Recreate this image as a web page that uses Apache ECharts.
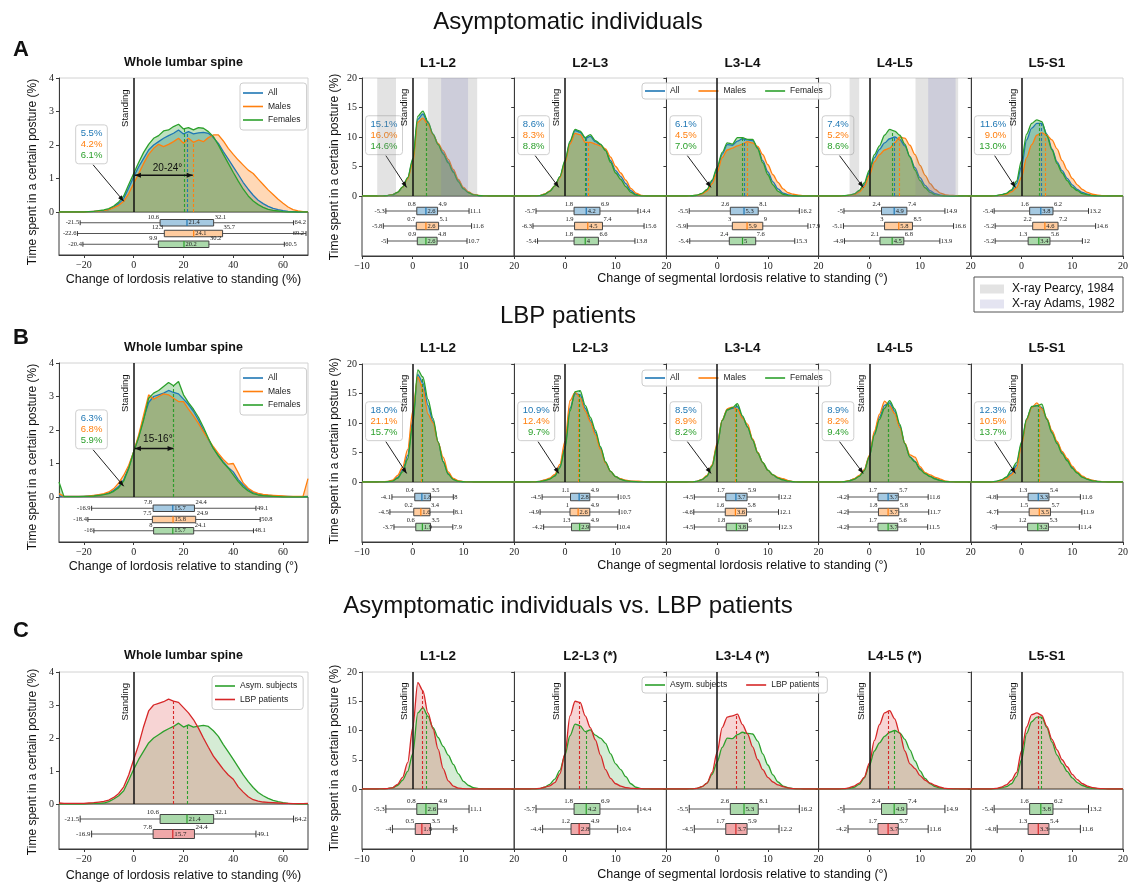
<!DOCTYPE html>
<html><head><meta charset="utf-8">
<script src="https://cdn.jsdelivr.net/npm/echarts@6/dist/echarts.min.js"></script>
<style>html,body{margin:0;padding:0;background:#fff}#main{width:1129px;height:882px}</style>
</head><body><div id="main"></div><script>
// ---------------- DATA ----------------
const WHOLE_X = []; for (let x = -30; x <= 70; x += 2) WHOLE_X.push(x);
const SEG_X = []; for (let x = -10; x <= 20; x += 1) SEG_X.push(x);
const WHOLE_TICKS = [-20, 0, 20, 40, 60];
const SEG_TICKS = [-10, 0, 10, 20];
const SEG_TICK_LABELS_FIRST = [-10, 0, 10, 20];
const SEG_TICK_LABELS_OTHER = [0, 10, 20];
const SEGMENTS = ['L1-L2', 'L2-L3', 'L3-L4', 'L4-L5', 'L5-S1'];
const SEGMENTS_C = ['L1-L2', 'L2-L3 (*)', 'L3-L4 (*)', 'L4-L5 (*)', 'L5-S1'];
const GROUPS = ['All', 'Males', 'Females'];
const GROUPS_C = ['Asym. subjects', 'LBP patients'];

// whole lumbar spine densities (x = -30..70 step 2)
const A_WHOLE_ALL = [0,0,0,0,0,0,0.01,0.02,0.02,0.03,0.07,0.15,0.25,0.4,0.72,1.05,1.35,1.6,1.85,2.0,2.1,2.2,2.28,2.35,2.45,2.33,2.4,2.33,2.36,2.38,2.35,2.22,2.05,1.8,1.58,1.35,1.12,0.88,0.68,0.5,0.35,0.25,0.17,0.11,0.07,0.04,0.02,0.01,0,0,0];
const A_WHOLE_MALES = [0,0,0,0,0,0,0.01,0.02,0.03,0.04,0.07,0.13,0.2,0.32,0.55,0.85,1.15,1.45,1.72,1.9,2.02,1.95,2.02,2.1,2.2,2.05,2.2,2.08,2.15,2.1,2.22,2.3,2.3,2.12,1.9,1.72,1.55,1.4,1.25,1.15,0.98,0.82,0.66,0.52,0.38,0.26,0.15,0.07,0.03,0.01,0];
const A_WHOLE_FEMALES = [0,0,0,0,0,0,0.01,0.02,0.04,0.06,0.1,0.18,0.3,0.48,0.82,1.15,1.48,1.78,2.02,2.2,2.28,2.42,2.45,2.55,2.62,2.48,2.52,2.45,2.52,2.5,2.4,2.25,2.0,1.72,1.45,1.18,0.92,0.68,0.48,0.33,0.22,0.14,0.08,0.05,0.03,0.01,0,0,0,0,0];
const B_WHOLE_ALL = [0.03,0.02,0.02,0.02,0.02,0.02,0.03,0.04,0.06,0.08,0.12,0.2,0.32,0.52,0.88,1.35,1.8,2.35,2.82,3.0,3.05,3.1,3.18,3.12,3.08,2.92,2.76,2.56,2.3,2.0,1.72,1.45,1.25,1.05,0.88,0.75,0.52,0.36,0.22,0.13,0.09,0.06,0.05,0.04,0.03,0.02,0.02,0.01,0.01,0.01,0.02];
const B_WHOLE_MALES = [0.1,0.02,0.02,0.02,0.02,0.02,0.03,0.05,0.07,0.1,0.15,0.25,0.42,0.65,0.95,1.35,1.85,2.45,3.05,2.92,3.0,3.08,3.05,2.95,2.85,2.85,2.62,2.42,2.2,1.95,1.72,1.5,1.3,1.12,0.98,1.0,0.72,0.42,0.26,0.16,0.11,0.08,0.06,0.05,0.04,0.03,0.02,0.02,0.02,0.02,0.55];
const B_WHOLE_FEMALES = [0.45,0.01,0.01,0.01,0.01,0.02,0.02,0.03,0.05,0.07,0.1,0.17,0.28,0.48,0.85,1.35,1.78,2.3,2.95,3.1,3.18,3.3,3.42,3.32,3.45,3.05,2.82,2.62,2.38,2.08,1.75,1.45,1.22,1.02,0.86,0.66,0.46,0.3,0.18,0.1,0.06,0.04,0.03,0.02,0.01,0,0,0,0,0,0];

// segmental densities (x = -10..20 step 1)
const A_L1L2_ALL = [0,0,0,0,0.02,0.06,0.2,0.6,1.5,3.0,6.0,13.0,13.9,12.4,10.5,8.8,7.3,5.8,4.2,2.6,1.3,0.6,0.22,0.07,0.02,0,0,0,0,0,0];
const A_L1L2_MALES = [0,0,0,0,0.02,0.07,0.22,0.62,1.5,2.9,5.6,12.5,13.2,12.1,10.4,8.9,7.7,6.2,4.5,2.8,1.45,0.7,0.26,0.09,0.03,0,0,0,0,0,0];
const A_L1L2_FEMALES = [0,0,0,0,0.02,0.06,0.2,0.6,1.55,3.1,6.3,13.5,14.4,12.6,10.5,8.7,7.1,5.6,4.0,2.4,1.2,0.55,0.2,0.06,0.02,0,0,0,0,0,0];
const A_L2L3_ALL = [0,0,0,0,0.02,0.06,0.3,0.8,1.7,3.2,5.8,9.1,11.1,10.8,9.8,10.1,9.2,8.7,7.8,6.0,4.3,3.3,2.1,0.9,0.3,0.06,0.01,0,0,0,0];
const A_L2L3_MALES = [0,0,0,0,0.03,0.08,0.35,0.85,1.7,3.1,5.6,8.8,10.6,10.4,9.1,9.1,8.8,8.5,8.0,6.6,5.0,3.9,2.7,1.3,0.5,0.12,0.03,0,0,0,0];
const A_L2L3_FEMALES = [0,0,0,0,0.02,0.05,0.28,0.78,1.7,3.3,6.0,9.3,11.3,11.0,9.9,10.4,9.4,8.8,7.7,5.7,3.9,2.8,1.6,0.6,0.15,0.03,0,0,0,0,0];
const A_L3L4_ALL = [0,0,0,0,0,0.04,0.12,0.4,1.0,2.5,4.6,7.1,8.7,8.6,9.3,9.7,9.5,9.4,8.2,6.0,4.1,2.4,1.2,0.5,0.2,0.06,0.02,0,0,0,0];
const A_L3L4_MALES = [0,0,0,0,0,0.05,0.12,0.35,0.85,2.1,4.0,6.5,7.8,8.1,8.5,8.8,9.2,9.0,8.4,7.0,5.3,3.6,2.3,1.2,0.55,0.3,0.15,0.06,0.02,0,0];
const A_L3L4_FEMALES = [0,0,0,0,0,0.04,0.13,0.45,1.1,2.7,4.9,7.4,9.0,8.8,9.9,9.9,9.6,9.6,8.0,5.6,3.6,1.9,0.8,0.3,0.08,0.02,0,0,0,0,0];
const A_L4L5_ALL = [0,0,0,0,0,0.04,0.12,0.3,0.8,1.9,4.0,6.5,7.9,9.0,9.7,10.0,9.6,8.5,6.7,4.8,3.1,1.8,0.9,0.4,0.15,0.05,0.02,0.04,0,0,0];
const A_L4L5_MALES = [0,0,0,0,0,0.03,0.1,0.25,0.65,1.6,3.5,5.8,7.0,7.8,8.1,9.0,10.0,9.8,8.6,7.0,5.2,3.5,2.1,1.1,0.5,0.2,0.1,0.08,0.02,0,0];
const A_L4L5_FEMALES = [0,0,0,0,0,0.05,0.14,0.35,0.95,2.2,4.4,7.0,8.5,10.3,11.3,11.0,10.3,8.8,6.6,4.4,2.6,1.4,0.6,0.2,0.06,0.02,0,0,0,0,0];
const A_L5S1_ALL = [0,0,0,0,0,0.05,0.2,0.4,0.9,2.1,5.0,9.5,11.5,12.3,12.3,10.5,8.0,5.8,4.3,3.0,1.9,1.1,0.6,0.3,0.1,0.05,0.01,0,0,0,0];
const A_L5S1_MALES = [0,0,0,0,0,0.05,0.15,0.3,0.7,1.4,3.2,6.5,8.7,10.3,10.7,10.3,9.5,8.0,6.0,4.4,3.0,1.9,1.1,0.6,0.3,0.15,0.06,0.02,0,0,0];
const A_L5S1_FEMALES = [0,0,0,0,0,0.05,0.22,0.45,1.05,2.5,6.0,10.5,12.3,12.9,12.6,10.2,7.8,5.5,3.9,2.6,1.5,0.9,0.4,0.2,0.05,0.01,0,0,0,0,0];
const B_L1L2_ALL = [0,0,0,0,0.02,0.06,0.2,0.8,2.0,4.5,10.5,18.2,16.8,13.0,10.3,6.8,3.5,1.4,0.5,0.15,0.05,0.02,0,0,0,0,0,0,0,0,0];
const B_L1L2_MALES = [0,0,0,0,0.03,0.1,0.3,1.1,2.5,5.5,12.0,17.8,15.8,11.5,10.0,6.7,4.2,1.7,0.6,0.2,0.07,0.02,0,0,0,0,0,0,0,0,0];
const B_L1L2_FEMALES = [0,0,0,0,0.02,0.05,0.15,0.6,1.7,3.9,9.7,19.0,17.8,14.0,10.8,6.8,3.4,1.3,0.4,0.12,0.04,0.01,0,0,0,0,0,0,0,0,0];
const B_L2L3_ALL = [0,0,0,0,0.03,0.1,0.3,0.55,1.1,2.6,6.0,12.5,15.0,14.8,12.5,10.5,8.4,5.8,3.3,1.8,0.9,0.5,0.25,0.12,0.08,0.05,0.02,0,0,0,0];
const B_L2L3_MALES = [0,0,0,0,0.04,0.12,0.35,0.65,1.3,3.0,6.9,13.8,15.2,14.3,12.0,10.2,8.0,5.5,3.2,1.8,0.9,0.55,0.3,0.15,0.15,0.1,0.03,0,0,0,0];
const B_L2L3_FEMALES = [0,0,0,0,0.02,0.08,0.25,0.5,1.0,2.4,5.6,12.0,15.3,15.5,13.0,11.0,8.8,6.0,3.4,1.8,0.9,0.45,0.2,0.1,0.05,0.02,0,0,0,0,0];
const B_L3L4_ALL = [0,0,0,0,0,0.03,0.1,0.4,1.0,2.8,6.3,10.5,12.3,12.5,12.8,11.0,9.4,7.2,5.0,3.3,2.0,1.2,0.7,0.4,0.2,0.05,0.01,0,0,0,0];
const B_L3L4_MALES = [0,0,0,0,0,0.04,0.12,0.45,1.1,2.9,6.6,10.5,12.4,12.7,12.3,10.8,9.8,7.3,5.0,3.3,2.0,1.2,0.8,0.55,0.25,0.08,0.02,0,0,0,0];
const B_L3L4_FEMALES = [0,0,0,0,0,0.03,0.1,0.4,1.0,2.7,6.1,10.4,12.2,12.6,13.3,11.2,9.3,7.1,4.9,3.3,2.0,1.2,0.65,0.35,0.15,0.04,0,0,0,0,0];
const B_L4L5_ALL = [0,0,0,0,0,0.05,0.2,0.5,1.0,2.0,4.4,8.3,11.0,13.0,13.4,12.0,9.5,6.5,4.3,3.5,2.3,1.5,1.0,0.6,0.3,0.1,0.05,0.01,0,0,0];
const B_L4L5_MALES = [0,0,0,0,0,0.06,0.22,0.55,1.1,2.1,4.5,8.6,11.5,13.7,12.9,11.6,9.2,6.6,4.6,4.2,2.6,1.6,1.2,0.8,0.5,0.15,0.05,0,0,0,0];
const B_L4L5_FEMALES = [0,0,0,0,0,0.04,0.18,0.45,0.95,1.9,4.3,8.0,10.6,12.5,13.8,12.4,9.8,6.5,4.2,3.4,2.1,1.4,0.9,0.5,0.25,0.08,0.03,0,0,0,0];
const B_L5S1_ALL = [0,0,0,0,0,0.1,0.3,0.7,1.5,2.8,6.5,10.6,12.7,13.0,12.6,10.7,8.5,6.7,5.0,3.8,2.5,1.6,0.9,0.5,0.25,0.1,0.05,0,0,0,0];
const B_L5S1_MALES = [0,0,0,0,0,0.08,0.25,0.55,1.2,2.3,6.2,10.5,12.6,13.4,12.4,10.8,8.7,6.9,5.2,4.0,2.7,1.7,1.0,0.55,0.3,0.12,0.05,0,0,0,0];
const B_L5S1_FEMALES = [0,0,0,0,0,0.12,0.35,0.85,2.0,3.3,6.8,10.7,12.8,12.9,13.2,10.6,8.3,6.5,4.8,3.6,2.3,1.5,0.8,0.45,0.2,0.08,0.03,0,0,0,0];

// box plot stats: [min, q1, median, q3, max]
const BOX_A_WHOLE = [[-21.5,10.6,21.4,32.1,64.2],[-22.6,12.3,24.1,35.7,69.2],[-20.4,9.9,20.2,30.2,60.5]];
const BOX_A_L1L2 = [[-5.3,0.8,2.6,4.9,11.1],[-5.8,0.7,2.6,5.1,11.6],[-5,0.9,2.6,4.8,10.7]];
const BOX_A_L2L3 = [[-5.7,1.8,4.2,6.9,14.4],[-6.3,1.9,4.5,7.4,15.6],[-5.4,1.8,4,6.6,13.8]];
const BOX_A_L3L4 = [[-5.5,2.6,5.3,8.1,16.2],[-5.9,3,5.9,9,17.9],[-5.4,2.4,5,7.6,15.3]];
const BOX_A_L4L5 = [[-5,2.4,4.9,7.4,14.9],[-5.1,3,5.8,8.5,16.6],[-4.9,2.1,4.5,6.8,13.9]];
const BOX_A_L5S1 = [[-5.4,1.6,3.8,6.2,13.2],[-5.2,2.2,4.6,7.2,14.6],[-5.2,1.3,3.4,5.6,12]];
const BOX_B_WHOLE = [[-16.9,7.8,15.7,24.4,49.1],[-18.4,7.5,15.8,24.9,50.8],[-16,8,15.7,24.1,48.1]];
const BOX_B_L1L2 = [[-4.1,0.4,1.8,3.5,8],[-4.5,0.2,1.6,3.4,8.1],[-3.7,0.6,1.9,3.5,7.9]];
const BOX_B_L2L3 = [[-4.5,1.1,2.8,4.9,10.5],[-4.9,1,2.6,4.9,10.7],[-4.2,1.3,2.9,4.9,10.4]];
const BOX_B_L3L4 = [[-4.5,1.7,3.7,5.9,12.2],[-4.6,1.6,3.6,5.8,12.1],[-4.5,1.8,3.8,6,12.3]];
const BOX_B_L4L5 = [[-4.2,1.7,3.7,5.7,11.6],[-4.2,1.8,3.7,5.8,11.7],[-4.2,1.7,3.7,5.6,11.5]];
const BOX_B_L5S1 = [[-4.8,1.3,3.3,5.4,11.6],[-4.7,1.5,3.5,5.7,11.9],[-5,1.2,3.2,5.3,11.4]];
const BOX_C_WHOLE = [[-21.5,10.6,21.4,32.1,64.2],[-16.9,7.8,15.7,24.4,49.1]];
const BOX_C_L1L2 = [[-5.3,0.8,2.6,4.9,11.1],[-4,0.5,1.8,3.5,8]];
const BOX_C_L2L3 = [[-5.7,1.8,4.2,6.9,14.4],[-4.4,1.2,2.8,4.9,10.4]];
const BOX_C_L3L4 = [[-5.5,2.6,5.3,8.1,16.2],[-4.5,1.7,3.7,5.9,12.2]];
const BOX_C_L4L5 = [[-5,2.4,4.9,7.4,14.9],[-4.2,1.7,3.7,5.7,11.6]];
const BOX_C_L5S1 = [[-5.4,1.6,3.8,6.2,13.2],[-4.8,1.3,3.3,5.4,11.6]];

// percentages of time in extension (All, Males, Females)
const PCT_A = [['5.5%','4.2%','6.1%'],['15.1%','16.0%','14.6%'],['8.6%','8.3%','8.8%'],['6.1%','4.5%','7.0%'],['7.4%','5.2%','8.6%'],['11.6%','9.0%','13.0%']];
const PCT_B = [['6.3%','6.8%','5.9%'],['18.0%','21.1%','15.7%'],['10.9%','12.4%','9.7%'],['8.5%','8.9%','8.2%'],['8.9%','8.2%','9.4%'],['12.3%','10.5%','13.7%']];
const RANGE_A = '20-24°', RANGE_B = '15-16°';
const RANGE_A_END = 23.7, RANGE_B_END = 16;

// X-ray reference ranges [from, to, kind(0 Pearcy,1 Adams)]
const XRAY_L1L2 = [[-7,-3.3,0],[3,12.7,0],[5.6,10.9,1]];
const XRAY_L4L5 = [[-3.9,-2,0],[9.1,17.5,0],[11.6,17,1]];

// ---------------- STYLE / LAYOUT ----------------
const SANS = '"Liberation Sans", Arial, Helvetica, sans-serif';
const SERIF = '"Liberation Serif", "DejaVu Serif", serif';
const BLUE='#1f77b4', ORANGE='#ff7f0e', GREEN='#2ca02c', RED='#d62728';
const FILL = {}; FILL[BLUE]='#a5c9e1'; FILL[ORANGE]='#ffcc9f'; FILL[GREEN]='#abd9ab'; FILL[RED]='#efa8a9';
const PEARCY='rgba(140,140,140,0.24)', ADAMS='rgba(120,120,185,0.2)';
const WHOLE_LEFT = 59, WHOLE_W = 249, SEG_LEFT0 = 362, SEG_W = 152.2;
const GEOM = {
  A: {whole:[78,212,255], seg:[78,196,256], title:63, xlab:280, ylabW:172, ylabS:167},
  B: {whole:[363,497,542], seg:[364,482,542], title:348, xlab:567, ylabW:457, ylabS:451},
  C: {whole:[672,804,849], seg:[672,789,849], title:656, xlab:876, ylabW:762, ylabS:758}
};
const STANDING = {A:[1,1,1,0,0,1], B:[1,1,1,0,1,1], C:[1,1,1,0,1,1]};

const CURVES_A = [[A_WHOLE_ALL,A_WHOLE_MALES,A_WHOLE_FEMALES],[A_L1L2_ALL,A_L1L2_MALES,A_L1L2_FEMALES],[A_L2L3_ALL,A_L2L3_MALES,A_L2L3_FEMALES],[A_L3L4_ALL,A_L3L4_MALES,A_L3L4_FEMALES],[A_L4L5_ALL,A_L4L5_MALES,A_L4L5_FEMALES],[A_L5S1_ALL,A_L5S1_MALES,A_L5S1_FEMALES]];
const CURVES_B = [[B_WHOLE_ALL,B_WHOLE_MALES,B_WHOLE_FEMALES],[B_L1L2_ALL,B_L1L2_MALES,B_L1L2_FEMALES],[B_L2L3_ALL,B_L2L3_MALES,B_L2L3_FEMALES],[B_L3L4_ALL,B_L3L4_MALES,B_L3L4_FEMALES],[B_L4L5_ALL,B_L4L5_MALES,B_L4L5_FEMALES],[B_L5S1_ALL,B_L5S1_MALES,B_L5S1_FEMALES]];
const BOXES = {A:[BOX_A_WHOLE,BOX_A_L1L2,BOX_A_L2L3,BOX_A_L3L4,BOX_A_L4L5,BOX_A_L5S1], B:[BOX_B_WHOLE,BOX_B_L1L2,BOX_B_L2L3,BOX_B_L3L4,BOX_B_L4L5,BOX_B_L5S1], C:[BOX_C_WHOLE,BOX_C_L1L2,BOX_C_L2L3,BOX_C_L3L4,BOX_C_L4L5,BOX_C_L5S1]};

function interp(xs, ys, x) {
  for (let i = 0; i < xs.length - 1; i++) if (x >= xs[i] && x <= xs[i+1]) { const t = (x - xs[i]) / (xs[i+1] - xs[i]); return ys[i] + t * (ys[i+1] - ys[i]); }
  return 0;
}
const ctx2d = document.createElement('canvas').getContext('2d');
function textW(s, font) { ctx2d.font = font; return ctx2d.measureText(s).width; }

function makeBoxRender(fills, colors, boxH, fs, xmax, flipMax) {
  return function (params, api) {
    const r = api.value(0);
    const v = [api.value(1), api.value(2), api.value(3), api.value(4), api.value(5)];
    const p = v.map(val => api.coord([val, r])[0]);
    const y = api.coord([0, r])[1];
    const right = api.coord([xmax, r])[0];
    const i = params.dataIndex, h = boxH, cap = boxH * 0.75;
    const font = fs + 'px ' + SERIF;
    const lab = (t, x, yy, align, va) => ({type:'text', style:{text:t, x:x, y:yy, font:font, fill:'#222', align:align, verticalAlign:va}});
    const maxT = String(v[4]);
    const maxLab = (flipMax && p[4] + 1 + textW(maxT, font) > right) ? lab(maxT, p[4] - 2, y, 'right', 'middle') : lab(maxT, p[4] + 1, y, 'left', 'middle');
    return {type:'group', children:[
      {type:'line', shape:{x1:p[0], y1:y, x2:p[4], y2:y}, style:{stroke:'#555', lineWidth:1}},
      {type:'line', shape:{x1:p[0], y1:y-cap/2, x2:p[0], y2:y+cap/2}, style:{stroke:'#333', lineWidth:1}},
      {type:'line', shape:{x1:p[4], y1:y-cap/2, x2:p[4], y2:y+cap/2}, style:{stroke:'#333', lineWidth:1}},
      {type:'rect', shape:{x:p[1], y:y-h/2, width:p[3]-p[1], height:h}, style:{fill:fills[i], stroke:'#444', lineWidth:1}},
      {type:'line', shape:{x1:p[2], y1:y-h/2, x2:p[2], y2:y+h/2}, style:{stroke:colors[i], lineWidth:1.2}},
      lab(String(v[0]), p[0] - 1, y, 'right', 'middle'),
      maxLab,
      lab(String(v[1]), p[1] - 1, y - h/2 + 1, 'right', 'bottom'),
      lab(String(v[3]), p[3] + 1, y - h/2 + 1, 'left', 'bottom'),
      lab(String(v[2]), p[2] + 1.5, y, 'left', 'middle')
    ]};
  };
}

const grids = [], xAxes = [], yAxes = [], series = [], panels = [];
function addPanel(o) {
  const gd = grids.length, gb = gd + 1;
  grids.push({left:o.left, top:o.top, width:o.width, height:o.zero-o.top, show:true, borderColor:'#d2d2d2', borderWidth:1, containLabel:false, outerBoundsMode:'none'});
  grids.push({left:o.left, top:o.zero, width:o.width, height:o.bottom-o.zero, show:true, borderColor:'#3a3a3a', borderWidth:1, containLabel:false, outerBoundsMode:'none'});
  xAxes.push({gridIndex:gd, type:'value', min:o.xmin, max:o.xmax, show:false});
  xAxes.push({gridIndex:gb, type:'value', min:o.xmin, max:o.xmax, position:'bottom',
    axisLine:{show:true, onZero:false, lineStyle:{color:'#3a3a3a', width:1}},
    axisTick:{show:true, length:3, customValues:o.ticks, lineStyle:{color:'#3a3a3a'}},
    axisLabel:{show:true, customValues:o.labels, margin:5, fontFamily:SERIF, fontSize:10, color:'#222', hideOverlap:false, formatter:v => String(v).replace('-', '\u2212')},
    splitLine:{show:false}});
  yAxes.push({gridIndex:gd, type:'value', min:0, max:o.ymax, interval:o.yint,
    axisLine:{show:true, onZero:false, lineStyle:{color:'#3a3a3a', width:1}},
    axisTick:{show:true, length:3, lineStyle:{color:'#3a3a3a'}},
    axisLabel:{show:o.yLabels, margin:5, fontFamily:SERIF, fontSize:10, color:'#222'},
    splitLine:{show:false}});
  yAxes.push({gridIndex:gb, type:'value', min:0, max:o.boxes.length + 1, inverse:true, show:false});
  const n = o.curves.length;
  o.curves.forEach((c, i) => {
    const s = {type:'line', name:c.name, xAxisIndex:gd, yAxisIndex:gd, data:o.xs.map((x, j) => [x, c.vals[j]]),
      symbol:'none', showSymbol:false, smooth:o.smooth, smoothMonotone:'x', silent:true, z:2,
      lineStyle:{color:c.color, width:1.3}, itemStyle:{color:c.color}, areaStyle:{color:c.color, opacity:o.alpha, origin:'start'}};
    if (i === n - 1) {
      const ml = [[{coord:[0, 0], lineStyle:{color:'#111', width:1.5, type:'solid'}}, {coord:[0, o.ymax]}]];
      o.curves.forEach(cc => ml.push([{coord:[cc.median, 0], lineStyle:{color:cc.color, width:1.1, type:[3,2]}}, {coord:[cc.median, interp(o.xs, cc.vals, cc.median)]}]));
      s.markLine = {silent:true, symbol:['none','none'], label:{show:false}, animation:false, data:ml};
    }
    series.push(s);
  });
  series.push({type:'custom', xAxisIndex:gb, yAxisIndex:gb, clip:true, silent:true, z:3,
    data:o.boxes.map((b, r) => [r + 1].concat(b)),
    renderItem:makeBoxRender(o.curves.map(c => FILL[c.color]), o.curves.map(c => c.color), o.boxH, o.boxFs, o.xmax, o.flipMax)});
  if (o.bands) {
    series.push({type:'custom', xAxisIndex:gd, yAxisIndex:gd, clip:true, silent:true, z:10, data:o.bands,
      renderItem:(params, api) => { const a = api.coord([api.value(0), o.ymax]); const b = api.coord([api.value(1), 0]);
        return {type:'rect', shape:{x:a[0], y:a[1], width:b[0]-a[0], height:b[1]-a[1]}, style:{fill: api.value(2) === 0 ? PEARCY : ADAMS}}; }});
  }
  return {gd:gd, gb:gb};
}

['A','B','C'].forEach(row => {
  for (let k = 0; k < 6; k++) {
    const whole = k === 0;
    const g = whole ? GEOM[row].whole : GEOM[row].seg;
    let curves;
    const bx = BOXES[row][k];
    if (row === 'C') {
      curves = [{name:GROUPS_C[0], color:GREEN, vals:CURVES_A[k][0], median:bx[0][2]}, {name:GROUPS_C[1], color:RED, vals:CURVES_B[k][0], median:bx[1][2]}];
    } else {
      const cv = row === 'A' ? CURVES_A[k] : CURVES_B[k];
      curves = [BLUE, ORANGE, GREEN].map((col, i) => ({name:GROUPS[i], color:col, vals:cv[i], median:bx[i][2]}));
    }
    const o = {
      left: whole ? WHOLE_LEFT : SEG_LEFT0 + (k - 1) * SEG_W, width: whole ? WHOLE_W : SEG_W,
      top:g[0], zero:g[1], bottom:g[2],
      xmin: whole ? -30 : -10, xmax: whole ? 70 : 20,
      ymax: whole ? 4 : 20, yint: whole ? 1 : 5, yLabels: whole || k === 1,
      ticks: whole ? WHOLE_TICKS : SEG_TICKS,
      labels: whole ? WHOLE_TICKS : (k === 1 ? SEG_TICK_LABELS_FIRST : SEG_TICK_LABELS_OTHER),
      xs: whole ? WHOLE_X : SEG_X, smooth: whole ? false : 0.3,
      curves:curves, boxes:bx, alpha: row === 'C' ? 0.2 : 0.3,
      boxH: row === 'C' ? (whole ? 9 : 11) : (whole ? 6.5 : 7.5), boxFs: row === 'C' ? 7 : 6.5,
      flipMax: whole,
      bands: (row === 'A' && k === 1) ? XRAY_L1L2 : (row === 'A' && k === 4) ? XRAY_L4L5 : null
    };
    const idx = addPanel(o);
    panels.push({row:row, k:k, whole:whole, gd:idx.gd, gb:idx.gb, left:o.left, width:o.width});
  }
});

function legendCfg(names, left, top, vertical) {
  return {show:true, data:names, left:left, top:top, orient: vertical ? 'vertical' : 'horizontal', selectedMode:false,
    icon:'rect', itemWidth:20, itemHeight:1.6, itemGap: vertical ? 3.5 : 19,
    backgroundColor:'rgba(255,255,255,0.85)', borderColor:'#cccccc', borderWidth:1, borderRadius:3,
    padding: vertical ? [5, 6, 5, 3] : [3, 8, 3, 3],
    textStyle:{fontFamily:SANS, fontSize:8.5, color:'#222', lineHeight:10}};
}

const chart = echarts.init(document.getElementById('main'), null, {renderer:'canvas', width:1129, height:882});
chart.setOption({
  animation:false, backgroundColor:'#fff',
  grid:grids, xAxis:xAxes, yAxis:yAxes, series:series,
  legend:[
    legendCfg(GROUPS, 240, 83, true), legendCfg(GROUPS, 642, 83, false),
    legendCfg(GROUPS, 240, 368, true), legendCfg(GROUPS, 642, 370, false),
    legendCfg(GROUPS_C, 212, 676, true), legendCfg(GROUPS_C, 642, 677, false)
  ]
});

// ---------------- ANNOTATIONS ----------------
const G = [];
const toPx = (gi, x, y) => chart.convertToPixel({gridIndex:gi}, [x, y]);
function text(t, x, y, size, opts) {
  opts = opts || {};
  G.push({type:'text', x:x, y:y, rotation:opts.rot || 0, z:opts.z || 20,
    style:{text:t, x:0, y:0, font:(opts.bold ? 'bold ' : '') + size + 'px ' + SANS, fill:opts.color || '#111', align:opts.align || 'center', verticalAlign:opts.va || 'middle'}});
}
function head(tx, ty, fx, fy, len, wid, z) {
  const a = Math.atan2(ty - fy, tx - fx);
  const bx = tx - len * Math.cos(a), by = ty - len * Math.sin(a);
  const nx = -Math.sin(a) * wid / 2, ny = Math.cos(a) * wid / 2;
  G.push({type:'polygon', z:z, shape:{points:[[tx, ty], [bx + nx, by + ny], [bx - nx, by - ny]]}, style:{fill:'#111'}});
}
function arrow(sx, sy, tx, ty, z) {
  G.push({type:'line', z:z, shape:{x1:sx, y1:sy, x2:tx, y2:ty}, style:{stroke:'#222', lineWidth:1}});
  head(tx, ty, sx, sy, 6, 4.5, z);
}

text('Asymptomatic individuals', 568, 22, 24);
text('LBP patients', 568, 316, 24);
text('Asymptomatic individuals vs. LBP patients', 568, 606, 24);
text('A', 21, 50, 22, {bold:true});
text('B', 21, 338, 22, {bold:true});
text('C', 21, 631, 22, {bold:true});

panels.forEach(p => {
  const geo = GEOM[p.row];
  const cx = p.left + p.width / 2;
  if (p.whole) {
    text('Whole lumbar spine', cx, geo.title, 12.5, {bold:true});
    text(p.row === 'B' ? 'Change of lordosis relative to standing (°)' : 'Change of lordosis relative to standing (%)', cx, geo.xlab, 12.5);
    text('Time spent in a certain posture (%)', 33, geo.ylabW, 12, {rot:Math.PI/2});
  } else {
    text(p.row === 'C' ? SEGMENTS_C[p.k - 1] : SEGMENTS[p.k - 1], cx, geo.title, 13.5, {bold:true});
  }
  if (STANDING[p.row][p.k]) {
    const pt = p.whole ? toPx(p.gd, -3.2, 3.1) : toPx(p.gd, -1.6, 15);
    text('Standing', pt[0], pt[1], 9.5, {rot:Math.PI/2, z:6});
  }
  if (p.row !== 'C') {
    const pct = (p.row === 'A' ? PCT_A : PCT_B)[p.k];
    const font = '9.5px ' + SANS;
    const tl = p.whole ? toPx(p.gd, -23.3, 2.6) : toPx(p.gd, -9.3, 13.6);
    const tw = Math.max.apply(null, pct.map(t => textW(t, font)));
    const w = tw + 10, lh = 11.3, hgt = lh * 3 + 5;
    G.push({type:'rect', z:5, shape:{x:tl[0], y:tl[1], width:w, height:hgt, r:3}, style:{fill:'rgba(255,255,255,0.85)', stroke:'#cfcfcf', lineWidth:1}});
    pct.forEach((t, i) => G.push({type:'text', z:6, style:{text:t, x:tl[0] + w - 5, y:tl[1] + 2.5 + lh * i + lh / 2, font:font, fill:[BLUE, ORANGE, GREEN][i], align:'right', verticalAlign:'middle'}}));
    const tip = p.whole ? toPx(p.gd, -4, 0.32) : toPx(p.gd, -1.2, 1.45);
    arrow(tl[0] + w * 0.55, tl[1] + hgt + 1, tip[0], tip[1], 6);
    if (p.whole) {
      const yv = p.row === 'A' ? 1.1 : 1.45;
      const endX = p.row === 'A' ? RANGE_A_END : RANGE_B_END;
      const a = toPx(p.gd, 0.5, yv), b = toPx(p.gd, endX, yv);
      G.push({type:'line', z:6, shape:{x1:a[0], y1:a[1], x2:b[0], y2:b[1]}, style:{stroke:'#111', lineWidth:1.5}});
      head(a[0], a[1], b[0], b[1], 6, 5, 6); head(b[0], b[1], a[0], a[1], 6, 5, 6);
      const tp = p.row === 'A' ? toPx(p.gd, 13.6, 1.32) : toPx(p.gd, 9.7, 1.72);
      text(p.row === 'A' ? RANGE_A : RANGE_B, tp[0], tp[1], 10, {z:6});
    }
  }
});
// shared segmental x labels and y labels
['A','B','C'].forEach(row => {
  text('Change of segmental lordosis relative to standing (°)', SEG_LEFT0 + 2.5 * SEG_W, GEOM[row].xlab - 1, 12.5);
  text('Time spent in a certain posture (%)', 335, GEOM[row].ylabS, 12, {rot:Math.PI/2});
});
// X-ray legend
G.push({type:'rect', z:20, shape:{x:974, y:277, width:149, height:35}, style:{fill:'#fff', stroke:'#555', lineWidth:1}});
G.push({type:'rect', z:21, shape:{x:980, y:284.5, width:24, height:9}, style:{fill:PEARCY}});
G.push({type:'rect', z:21, shape:{x:980, y:299.5, width:24, height:9}, style:{fill:ADAMS}});
text('X-ray Pearcy, 1984', 1012, 289, 12, {align:'left', z:21});
text('X-ray Adams, 1982', 1012, 304, 12, {align:'left', z:21});

chart.setOption({graphic:G});
</script></body></html>
